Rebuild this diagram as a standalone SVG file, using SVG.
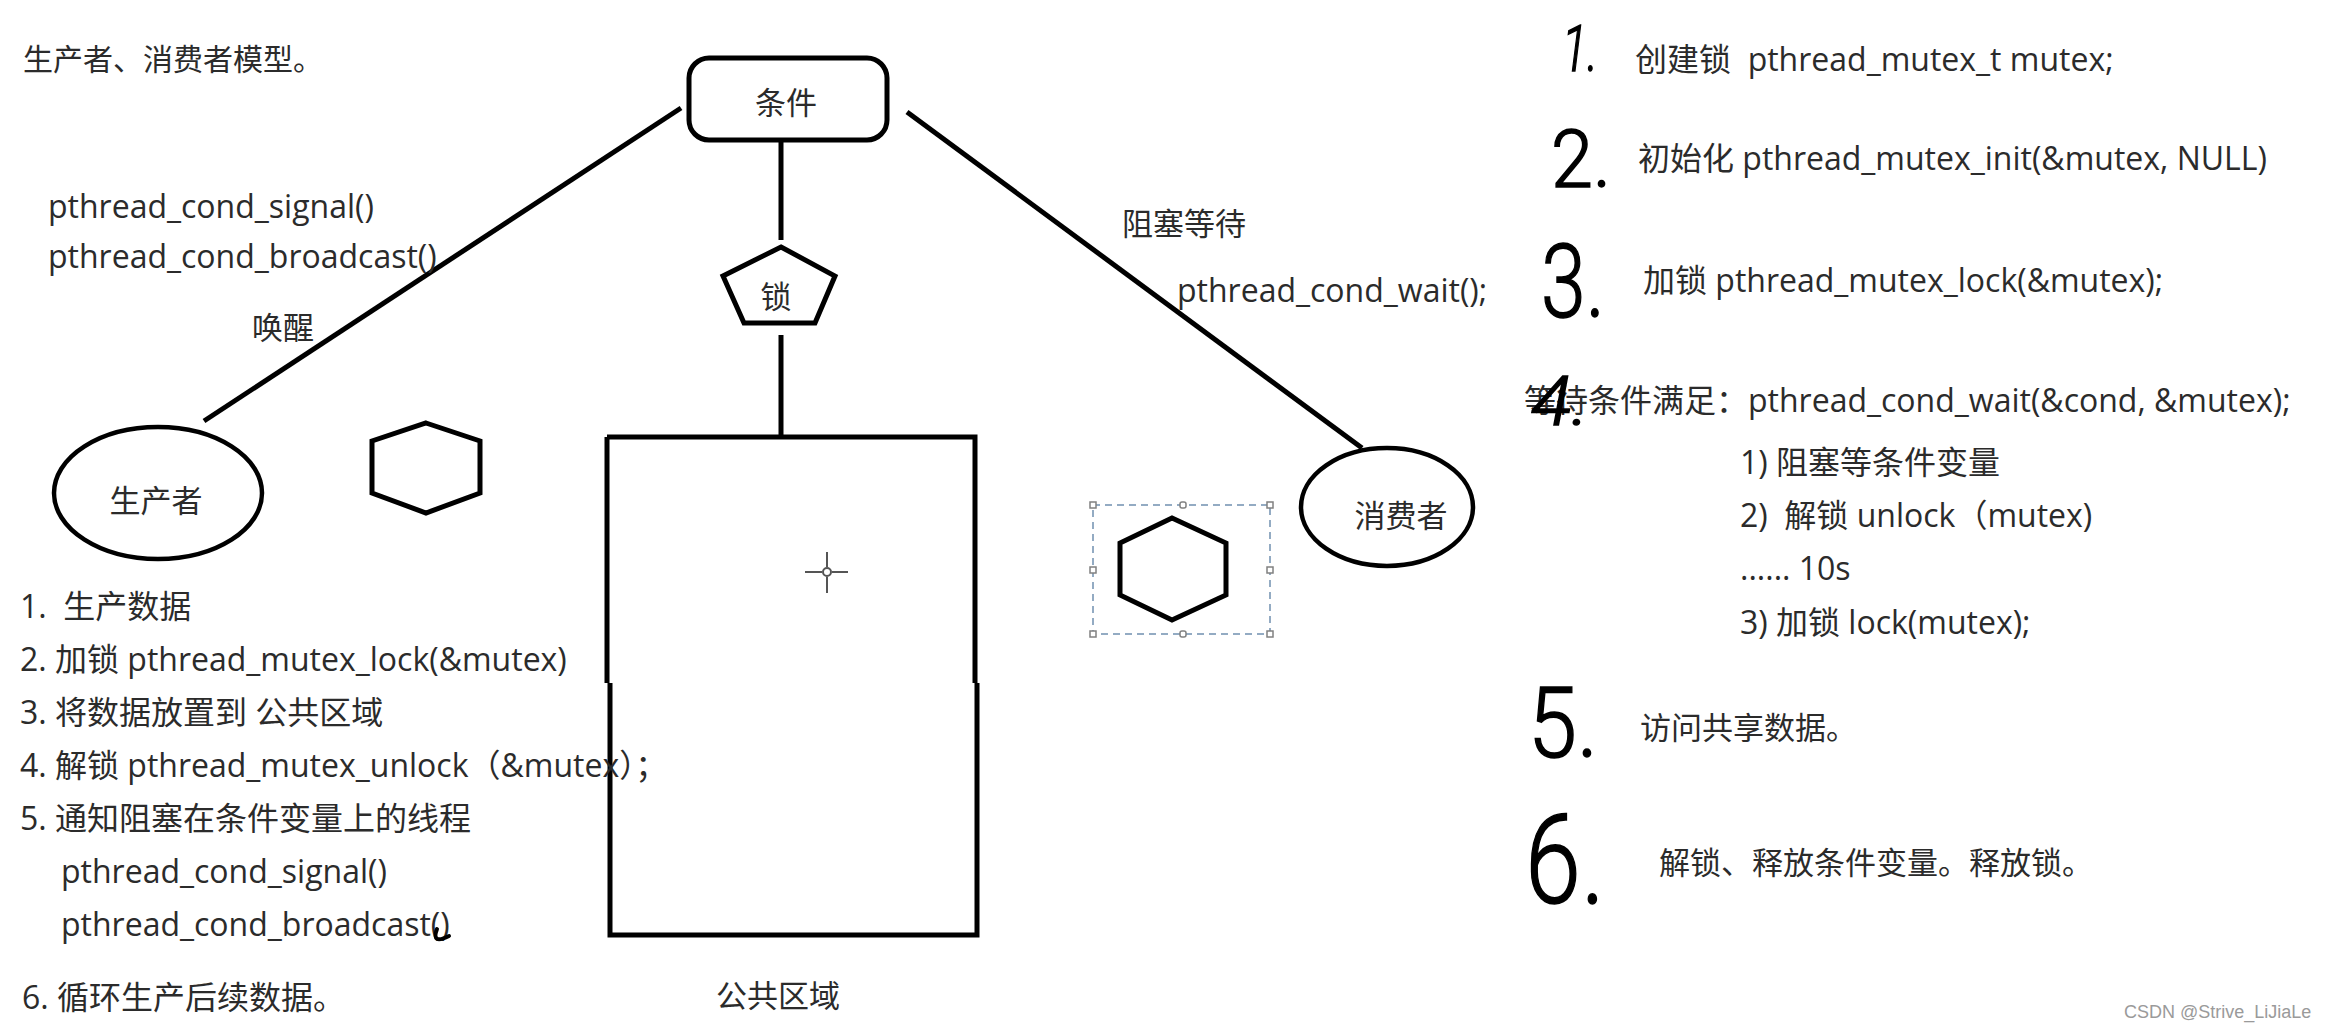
<svg xmlns="http://www.w3.org/2000/svg" width="2330" height="1031" viewBox="0 0 2330 1031">
<style>
.t{font-family:"Open Sans","Noto Sans CJK SC",sans-serif;font-size:32px;fill:#2b2b2b;white-space:pre}
.c{font-size:31px}
.hw{font-family:Roboto,"DejaVu Sans",sans-serif;font-weight:300;fill:#000;stroke:#000;stroke-width:1.5}
.sh{fill:none;stroke:#000;stroke-width:5;stroke-linejoin:miter}
.conn{fill:none;stroke:#000;stroke-width:5}
.hd{fill:#fff;stroke:#808080;stroke-width:1.5}
.sel{fill:none;stroke:#7090b0;stroke-width:1.5;stroke-dasharray:7 5}
.wm{font-family:"Liberation Sans",sans-serif;font-size:18px;fill:#9a9a9a}
</style>
<rect width="2330" height="1031" fill="#fff"/>

<text class="t c" x="23" y="70" style="font-size:30px">生产者、消费者模型。</text>

<g id="connectors">
  <line class="conn" x1="681" y1="108" x2="204" y2="421"/>
  <line class="conn" x1="907" y1="112" x2="1362" y2="448"/>
  <line class="conn" x1="781" y1="140" x2="781" y2="240"/>
  <line class="conn" x1="781" y1="335" x2="781" y2="437"/>
</g>

<g id="node-condition">
  <rect class="sh" x="689" y="58" width="198" height="82" rx="20"/>
  <text class="t c" x="786" y="114" text-anchor="middle">条件</text>
</g>

<g id="node-lock">
  <polygon class="sh" points="781,247 835,276 815,323 744,323 723,276"/>
  <text class="t c" x="776" y="308" text-anchor="middle">锁</text>
</g>

<g id="node-shared">
  <path class="sh" d="M607,437 H975 V683 M977,683 V935 H610 V683 M607,683 V437"/>
  <text class="t c" x="778" y="1007" text-anchor="middle">公共区域</text>
  <g id="crosshair" stroke="#555" stroke-width="2" fill="none">
    <line x1="805" y1="572" x2="822" y2="572"/>
    <line x1="832" y1="572" x2="848" y2="572"/>
    <line x1="827" y1="552" x2="827" y2="567"/>
    <line x1="827" y1="577" x2="827" y2="593"/>
    <circle cx="827" cy="572" r="4"/>
  </g>
</g>

<g id="node-producer">
  <ellipse class="sh" cx="158" cy="493" rx="104" ry="66" style="stroke-width:4.5"/>
  <text class="t c" x="156" y="512" text-anchor="middle">生产者</text>
</g>

<g id="node-consumer">
  <ellipse class="sh" cx="1387" cy="507" rx="86" ry="59" style="stroke-width:4.5"/>
  <text class="t c" x="1401" y="527" text-anchor="middle">消费者</text>
</g>

<g id="node-hex-left">
  <polygon class="sh" points="426,423 480,441 480,493 426,513 372,493 372,441"/>
</g>

<g id="node-hex-selected">
  <polygon class="sh" points="1172,518 1226,543 1226,595 1172,620 1120,595 1120,543"/>
  <rect class="sel" x="1093" y="505" width="177" height="129"/>
  <rect class="hd" x="1090" y="502" width="6" height="6"/>
  <rect class="hd" x="1267" y="502" width="6" height="6"/>
  <rect class="hd" x="1090" y="631" width="6" height="6"/>
  <rect class="hd" x="1267" y="631" width="6" height="6"/>
  <rect class="hd" x="1090" y="567" width="6" height="6"/>
  <rect class="hd" x="1267" y="567" width="6" height="6"/>
  <rect class="hd" x="1180" y="502" width="6" height="6" rx="2"/>
  <rect class="hd" x="1180" y="631" width="6" height="6" rx="2"/>
</g>

<g id="edge-labels">
  <text class="t" x="48" y="218">pthread_cond_signal()</text>
  <text class="t" x="48" y="268">pthread_cond_broadcast()</text>
  <text class="t c" x="252" y="339">唤醒</text>
  <text class="t c" x="1122" y="235">阻塞等待</text>
  <text class="t" x="1177" y="302">pthread_cond_wait();</text>
</g>

<g id="producer-steps">
  <text class="t" x="20" y="618">1.  生产数据</text>
  <text class="t" x="20" y="671">2. 加锁 pthread_mutex_lock(&amp;mutex)</text>
  <text class="t" x="20" y="724">3. 将数据放置到 公共区域</text>
  <text class="t" x="20" y="777">4. 解锁 pthread_mutex_unlock（&amp;mutex）；</text>
  <text class="t" x="20" y="830">5. 通知阻塞在条件变量上的线程</text>
  <text class="t" x="61" y="883">pthread_cond_signal()</text>
  <text class="t" x="61" y="936">pthread_cond_broadcast()</text>
  <path d="M437,929 Q431,945 449,936" fill="none" stroke="#000" stroke-width="4" stroke-linecap="round"/>
  <text class="t" x="22" y="1009">6. 循环生产后续数据。</text>
</g>

<g id="steps-right">
  <text class="hw" x="1562" y="71" font-size="64" textLength="36" lengthAdjust="spacingAndGlyphs" font-style="italic">1.</text>
  <text class="t" x="1635" y="71">创建锁  pthread_mutex_t mutex;</text>
  <text class="hw" x="1551" y="187" font-size="80" textLength="60" lengthAdjust="spacingAndGlyphs">2.</text>
  <text class="t" x="1638" y="170">初始化 pthread_mutex_init(&amp;mutex, NULL)</text>
  <text class="hw" x="1541" y="317" font-size="102" textLength="64" lengthAdjust="spacingAndGlyphs">3.</text>
  <text class="t" x="1643" y="292">加锁 pthread_mutex_lock(&amp;mutex);</text>
  <text class="t" x="1524" y="412">等待条件满足：pthread_cond_wait(&amp;cond, &amp;mutex);</text>
  <text class="hw" x="1531" y="425" font-size="68" textLength="58" lengthAdjust="spacingAndGlyphs" font-style="italic">4.</text>
  <text class="t" x="1740" y="474">1) 阻塞等条件变量</text>
  <text class="t" x="1740" y="527">2)  解锁 unlock（mutex)</text>
  <text class="t" x="1740" y="580">...... 10s</text>
  <text class="t" x="1740" y="634">3) 加锁 lock(mutex);</text>
  <text class="hw" x="1528" y="757" font-size="98" textLength="70" lengthAdjust="spacingAndGlyphs">5.</text>
  <text class="t c" x="1640" y="739">访问共享数据。</text>
  <text class="hw" x="1525" y="903" font-size="124" textLength="80" lengthAdjust="spacingAndGlyphs">6.</text>
  <text class="t c" x="1659" y="874">解锁、释放条件变量。释放锁。</text>
</g>

<text class="wm" x="2124" y="1018">CSDN @Strive_LiJiaLe</text>
</svg>
